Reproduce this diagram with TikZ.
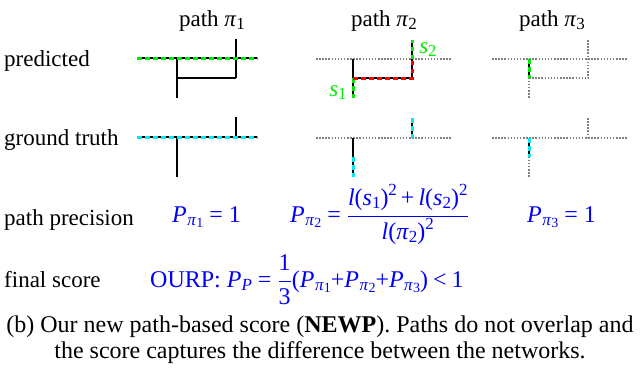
\documentclass[tikz,border=0pt]{standalone}
\usepackage{fontspec}
\setmainfont{Liberation Serif}
\definecolor{gr}{RGB}{0,235,0}
\definecolor{cy}{RGB}{0,235,235}
\definecolor{rd}{RGB}{255,0,0}
\definecolor{bl}{RGB}{0,0,245}
\newcommand\vsub[1]{\raisebox{-0.3ex}{\fontsize{17}{17}\selectfont #1}}
\newcommand\vssub[1]{\raisebox{-0.25ex}{\fontsize{14}{14}\selectfont #1}}
\newcommand\vsup[1]{\raisebox{0.85ex}{\fontsize{17}{17}\selectfont #1}}
\newcommand\Ppi[1]{\textit{P}\kern0.5pt\vsub{\textit{π}\vssub{#1}}}
\newcommand\vs[1]{\textit{s}\vsub{#1}}
\newcommand\veq{\hspace{6pt}=\hspace{6pt}}
\newcommand\vpl{\hspace{4pt}+\hspace{4pt}}
\begin{document}
\begin{tikzpicture}[x=1pt,y=-1pt,
  blk/.style={line width=1.6pt,black},
  dot/.style={line width=1.5pt,black!50,dash pattern=on 1.5pt off 1.6pt},
  gdash/.style={line width=3pt,gr,dash pattern=on 4.5pt off 3.5pt},
  cdash/.style={line width=3pt,cy,dash pattern=on 4.5pt off 3.5pt},
  rdash/.style={line width=3pt,rd,dash pattern=on 4.5pt off 3.5pt},
  lab/.style={anchor=base west,inner sep=0pt,font=\fontsize{23}{27}\selectfont},
  ttl/.style={anchor=base,inner sep=0pt,font=\fontsize{23}{27}\selectfont},
  eq/.style={anchor=base west,inner sep=0pt,text=bl,font=\fontsize{24}{28}\selectfont},
  captxt/.style={anchor=base,inner sep=0pt,font=\fontsize{24}{28}\selectfont}]
\useasboundingbox (0,0) rectangle (640,375);
% titles
\node[ttl] (t1) at (212,26) {path \textit{π}\vsub{1}};
\node[ttl] (t2) at (384,26) {path \textit{π}\vsub{2}};
\node[ttl] (t3) at (552,26) {path \textit{π}\vsub{3}};
% row labels
\node[lab] (r1) at (4,66) {predicted};
\node[lab] (r2) at (4,145) {ground truth};
\node[lab] (r3) at (4,225) {path precision};
\node[lab] (r4) at (4,287) {final score};
% ---- path 1 predicted
\draw[blk] (137,58) -- (258,58);
\draw[blk] (177,58) -- (177,98);
\draw[blk] (177,78) -- (236,78);
\draw[blk] (236,39) -- (236,78);
\draw[gdash] (137,58) -- (258,58);
% ---- path 1 ground truth
\draw[blk] (137,137) -- (258,137);
\draw[blk] (177,137) -- (177,177);
\draw[blk] (236,117) -- (236,137);
\draw[cdash] (137,137) -- (258,137);
% ---- path 2 predicted
\draw[dot] (316,59) -- (452,59);
\draw[blk] (353,59) -- (353,98);
\draw[blk] (353,78) -- (412,78);
\draw[blk] (412,40) -- (412,78);
\draw[gdash] (353,78) -- (353,98);
\draw[rdash] (353,78) -- (412,78) -- (412,59);
\draw[gdash] (412,59) -- (412,40);
\node[text=gr,anchor=base,inner sep=0pt,font=\fontsize{23}{26}\selectfont] (s1) at (338,96) {\vs{1}};
\node[text=gr,anchor=base,inner sep=0pt,font=\fontsize{23}{26}\selectfont] (s2) at (428,53) {\vs{2}};
% ---- path 2 ground truth
\draw[dot] (316,138) -- (452,138);
\draw[blk] (353,138) -- (353,177);
\draw[cdash] (353,157) -- (353,177);
\draw[blk] (412,118) -- (412,138);
\draw[cdash] (412,118) -- (412,138);
% ---- path 3 predicted
\draw[dot] (492,59) -- (628,59);
\draw[dot] (529,59) -- (529,98);
\draw[dot] (529,78) -- (588,78);
\draw[dot] (588,40) -- (588,78);
\draw[blk] (529,59) -- (529,78);
\draw[gdash] (529,59) -- (529,78);
% ---- path 3 ground truth
\draw[dot] (492,138) -- (628,138);
\draw[dot] (529,138) -- (529,177);
\draw[dot] (588,118) -- (588,138);
\draw[blk] (529,138) -- (529,157);
\draw[cdash] (529,138) -- (529,157);
% ---- equations
\node[eq] (e1) at (172,222) {\Ppi{1}\veq{}1};
\node[eq] (e2) at (290,222) {\Ppi{2}\veq{}$\displaystyle\frac{\mbox{\textit{l}(\vs{1})\vsup{2}\vpl{}\textit{l}(\vs{2})\vsup{2}}}{\mbox{\textit{l}(\textit{π}\vsub{2})\vsup{2}}}$};
\node[eq] (e3) at (527,222) {\Ppi{3}\veq{}1};
\node[eq] (e4) at (150,287) {OURP: \textit{P}\vsub{\textit{P}}\veq{}$\displaystyle\frac{\mbox{1}}{\mbox{3}}$(\Ppi{1}+\Ppi{2}+\Ppi{3})\hspace{5pt}<\hspace{5pt}1};
% ---- caption
\node[captxt] (c1) at (320,332) {(b) Our new path-based score (\textbf{NEWP}). Paths do not overlap and};
\node[captxt] (c2) at (320,358) {the score captures the difference between the networks.};
\end{tikzpicture}
\end{document}
